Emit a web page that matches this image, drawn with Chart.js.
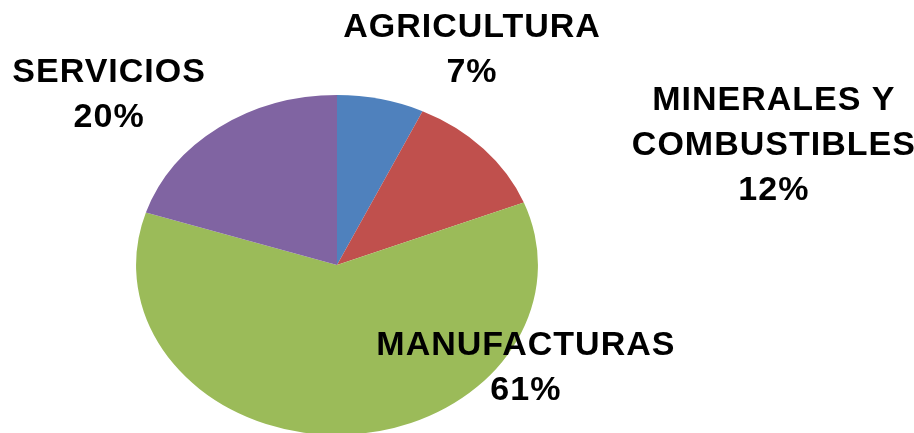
<!doctype html>
<html lang="es">
<head>
    <meta charset="utf-8">
    <title>PIE CHART</title>
    <script src="https://cdn.jsdelivr.net/npm/chart.js@4.4.1/dist/chart.umd.min.js"></script>
    <style>
        html, body { margin: 0; padding: 0; background: #fff; overflow: hidden; }
        #caja { width: 914px; height: 440px; position: relative; }
    </style>
</head>
<body>
    <div id="caja"><canvas id="chart"></canvas></div>

    <script>
        // datos
        var categorias = ['AGRICULTURA', 'MINERALES Y COMBUSTIBLES', 'MANUFACTURAS', 'SERVICIOS'];
        var valores = [7, 12, 61, 20];
        var lineasEtiqueta = [['AGRICULTURA'], ['MINERALES Y', 'COMBUSTIBLES'], ['MANUFACTURAS'], ['SERVICIOS']];
        var colores = ['#4F81BD', '#C0504D', '#9BBB59', '#8064A2'];

        // donde va cada etiqueta, en radios desde el centro (movidas a mano como en excel)
        var posEtiquetas = [[0.672, -1.265], [2.174, -0.70], [0.94, 0.606], [-1.134, -1.0]];
        var estirar = 1.182; // el pie original es una elipse

        var elipse = {
            id: 'elipse',
            beforeDatasetsDraw: function (chart) {
                var arc = chart.getDatasetMeta(0).data[0];
                var ctx = chart.ctx;
                ctx.save();
                ctx.translate(arc.x, arc.y);
                ctx.scale(estirar, 1);
                ctx.translate(-arc.x, -arc.y);
            },
            afterDatasetsDraw: function (chart) {
                chart.ctx.restore();
            }
        };

        var etiquetas = {
            id: 'etiquetas',
            afterDraw: function (chart) {
                var meta = chart.getDatasetMeta(0);
                var ctx = chart.ctx;
                var total = valores.reduce(function (a, b) { return a + b; }, 0);
                ctx.save();
                ctx.font = 'bold 34px "Liberation Sans", Arial, sans-serif';
                ctx.letterSpacing = '1px';
                ctx.fillStyle = '#000';
                ctx.textAlign = 'center';
                ctx.textBaseline = 'middle';
                var alto = 45;
                meta.data.forEach(function (arc, i) {
                    var r = arc.outerRadius;
                    var cx = arc.x + posEtiquetas[i][0] * r * estirar;
                    var cy = arc.y + posEtiquetas[i][1] * r;
                    var lineas = lineasEtiqueta[i].concat([Math.round(valores[i] / total * 100) + '%']);
                    var y0 = cy - (lineas.length - 1) * alto / 2;
                    lineas.forEach(function (t, k) {
                        ctx.fillText(t, cx, y0 + k * alto);
                    });
                });
                ctx.restore();
            }
        };

        new Chart(document.getElementById('chart').getContext('2d'), {
            type: 'pie',
            data: {
                labels: categorias,
                datasets: [{
                    data: valores,
                    backgroundColor: colores,
                    borderWidth: 0
                }]
            },
            options: {
                responsive: true,
                maintainAspectRatio: false,
                animation: false,
                layout: { padding: { top: 95, bottom: 5, left: 0, right: 240 } },
                plugins: {
                    legend: { display: false },
                    tooltip: { enabled: false }
                }
            },
            plugins: [elipse, etiquetas]
        });
    </script>
</body>
</html>
